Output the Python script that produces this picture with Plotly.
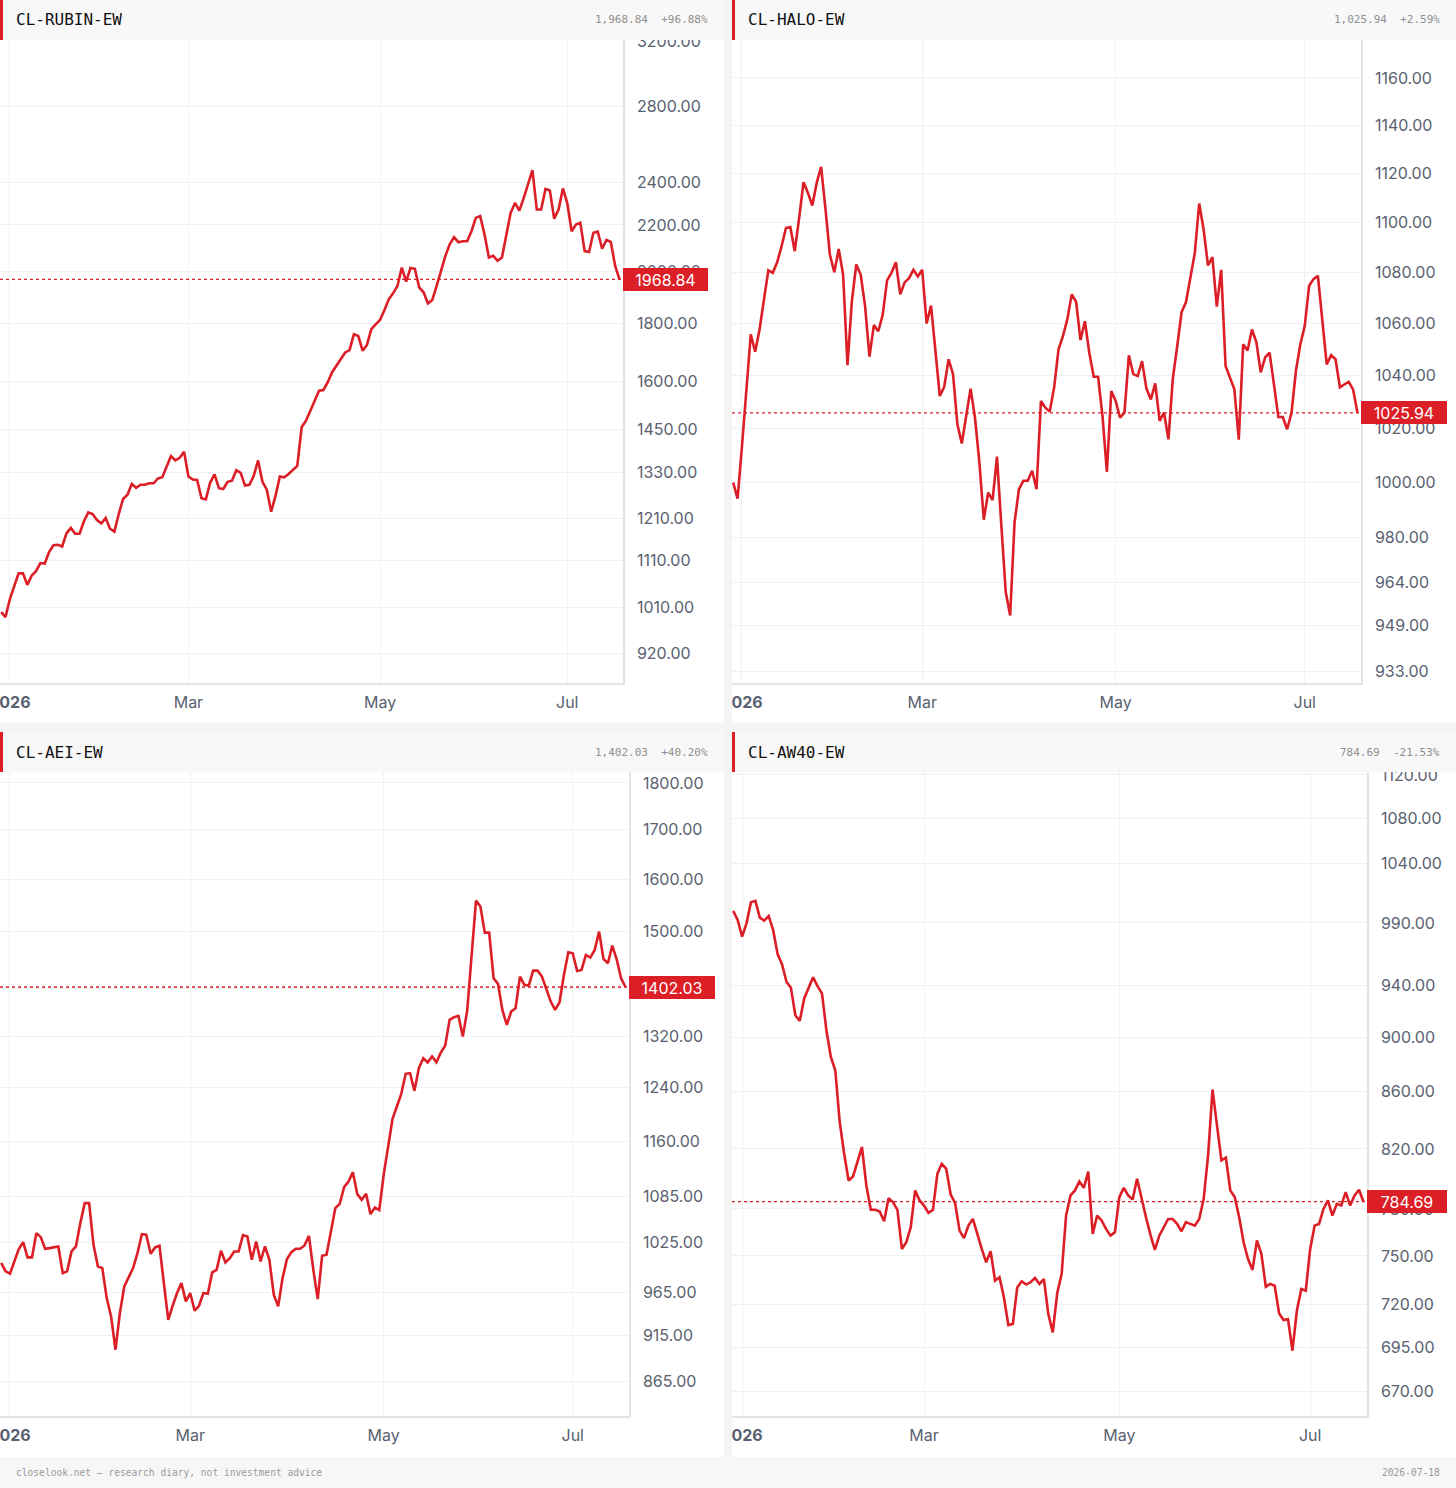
import math
import pandas as pd
import plotly.graph_objects as go

# ---------------- data ----------------
dates = [d.strftime('%Y-%m-%d') for d in pd.bdate_range('2025-12-30', '2026-07-17')
         if d.strftime('%Y-%m-%d') != '2026-01-01']

x_tickvals = ['2026-01-02', '2026-03-02', '2026-05-01', '2026-07-01']
x_ticktext = ['<b>2026</b>', 'Mar', 'May', 'Jul']

names = ['CL-RUBIN-EW', 'CL-HALO-EW', 'CL-AEI-EW', 'CL-AW40-EW']

rubin = [1000, 990, 1027, 1052, 1082, 1082, 1057, 1077, 1087, 1105,
         1104, 1130, 1146, 1147, 1143, 1174, 1187, 1173, 1173, 1203,
         1225, 1221, 1206, 1198, 1211, 1185, 1178, 1221, 1259, 1270,
         1298, 1288, 1296,
         1296, 1300, 1300, 1313, 1316, 1347, 1374, 1362, 1369, 1386,
         1318, 1310, 1309, 1261, 1258, 1302, 1324, 1287, 1285, 1304,
         1307, 1335, 1328, 1294, 1296, 1320, 1362, 1304, 1283, 1227,
         1267, 1318, 1316, 1325, 1335, 1347, 1457, 1477, 1507, 1536,
         1570, 1572, 1597, 1630, 1652, 1671, 1697, 1705, 1761, 1755,
         1703, 1723, 1779, 1797, 1813, 1849, 1891, 1914, 1943, 2017,
         1960, 2015, 2012, 1937, 1918, 1875, 1888, 1943, 2003, 2065,
         2115, 2146, 2124, 2128, 2128, 2172, 2232, 2240, 2158, 2059,
         2066, 2045, 2059, 2158, 2255, 2301, 2265, 2324, 2389, 2460,
         2270, 2270, 2367, 2360, 2228, 2270, 2370, 2300, 2172, 2202,
         2210, 2086, 2082, 2165, 2170, 2096, 2134, 2125, 2024, 1968.84]

halo = [1000, 994.2, 1013.5, 1034.8, 1055.9, 1049.2, 1057.8, 1069.5, 1081.0, 1080.0,
        1084.2, 1090.5, 1097.9, 1098.3, 1088.6, 1101.9, 1116.5, 1112.1, 1107.0, 1116.2,
        1122.8, 1105.4, 1087.2, 1080.2, 1089.5, 1079.3, 1044.0, 1068.9, 1083.3, 1079.3,
        1066.9, 1047.3, 1059.5, 1057.1, 1063.4, 1077.0, 1080.0, 1084.2, 1071.5, 1076.2,
        1077.9, 1081.2, 1078.6, 1081.2, 1060.1, 1067.1, 1048.8, 1032.3, 1035.8, 1046.3,
        1040.6, 1021.6, 1014.5, 1024.8, 1035.1, 1024.1, 1007.4, 986.5, 996.4, 993.6,
        1009.6, 984.3, 960.6, 952.5, 985.6, 997.6, 1000.7, 1000.7, 1004.4, 997.6,
        1030.4, 1027.9, 1026.4, 1035.5, 1050.1, 1055.2, 1061.7, 1071.5, 1068.6, 1053.7,
        1061.0, 1048.8, 1039.6, 1039.6, 1024.8, 1004.0, 1034.2, 1030.4, 1024.1, 1026.0,
        1047.8, 1040.6, 1039.9, 1045.6, 1035.1, 1031.0, 1037.1, 1022.9, 1026.0, 1016.0,
        1038.9, 1051.4, 1064.6, 1068.5, 1078.6, 1087.9, 1107.8, 1097.3, 1082.9, 1086.2,
        1066.7, 1081.2, 1043.7, 1039.3, 1034.8, 1015.9, 1052.1, 1049.7, 1057.8, 1052.9,
        1041.3, 1047.0, 1048.8, 1036.7, 1024.4, 1024.4, 1019.8, 1026.0, 1041.9, 1052.1,
        1059.1, 1074.9, 1077.5, 1078.8, 1061.7, 1044.3, 1047.9, 1046.3, 1035.6, 1036.7,
        1037.7, 1034.8, 1025.94]

aei = [1000, 989.7, 986.9, 1001.9, 1017.1, 1025.8, 1006.8, 1006.8, 1037.2, 1032.1,
       1017.5, 1018.3, 1019.2, 1020.4, 987.6, 989.7, 1014.2, 1020.4, 1050.0, 1076.0,
       1076.0, 1022.5, 995.7, 993.7, 957.9, 936.6, 899.2, 940.5, 971.7, 983.6,
       993.7, 1012.1, 1035.9, 1035.1, 1011.3, 1019.2, 1021.2, 975.6, 932.8, 948.9,
       963.8, 975.6, 954.0, 963.8, 943.2, 948.9, 963.8, 963.0, 988.5, 991.6,
       1015.0, 1000.6, 1005.9, 1014.2, 1014.2, 1034.7, 1033.0, 1003.9, 1026.7, 1001.9,
       1020.4, 1003.9, 961.8, 948.2, 981.6, 1004.7, 1013.3, 1017.5, 1017.5, 1021.7,
       1033.8, 991.7, 956.7, 1008.8, 1010.1, 1039.3, 1069.4, 1075.1, 1097.3, 1104.9,
       1117.6, 1087.9, 1080.4, 1088.4, 1061.6, 1070.3, 1066.8, 1114.0, 1153.3, 1192.5,
       1211.2, 1230.1, 1260.6, 1261.6, 1234.6, 1269.3, 1285.0, 1278.2, 1287.6, 1278.7,
       1293.9, 1305.1, 1346.7, 1351.1, 1353.3, 1319.5, 1362.2, 1452.3, 1558.5, 1547.1,
       1498.6, 1498.6, 1417.2, 1407.4, 1363.3, 1338.5, 1360.5, 1366.1, 1420.0, 1405.7,
       1404.6, 1430.5, 1430.5, 1420.0, 1399.9, 1377.2, 1363.3, 1376.1, 1422.9, 1462.9,
       1461.1, 1429.9, 1431.6, 1458.2, 1453.5, 1467.2, 1500.4, 1451.1, 1443.4, 1475.0,
       1450.5, 1417.2, 1402.03]

aw40 = [1000, 992.5, 978.8, 989.7, 1007.2, 1008.4, 994.4, 991.9, 995.8, 984.2,
        964.7, 956.6, 942.6, 937.9, 916.7, 912.4, 929.6, 937.4, 946.1, 939.2,
        933.5, 905.3, 885.4, 875.6, 838.6, 816.7, 798.7, 801.4, 811.0, 821.3,
        795.4, 779.4, 779.4, 778.3, 772.0, 787.0, 784.4, 779.4, 754.4, 758.6,
        768.2, 792.1, 785.5, 782.2, 777.4, 779.4, 803.2, 809.9, 806.5, 789.4,
        783.7, 766.0, 761.2, 769.2, 773.5, 763.5, 754.4, 746.0, 752.9, 734.7,
        736.8, 724.5, 708.0, 708.6, 730.6, 734.3, 732.3, 733.7, 736.3, 732.7,
        735.7, 714.5, 703.7, 727.0, 738.8, 775.7, 788.8, 792.1, 798.0, 793.8,
        804.7, 763.9, 775.7, 772.5, 767.1, 762.8, 765.0, 787.7, 793.8, 788.8,
        786.1, 799.8, 786.6, 774.6, 763.5, 753.8, 762.8, 768.2, 773.5, 773.5,
        770.3, 765.6, 771.4, 770.3, 769.2, 773.5, 786.6, 815.6, 861.6, 836.3,
        812.2, 814.0, 792.1, 787.7, 774.6, 758.6, 748.1, 741.3, 759.7, 751.3,
        731.0, 732.7, 731.6, 714.9, 711.0, 711.5, 693.0, 716.5, 729.6, 728.6,
        754.4, 769.2, 770.3, 780.0, 785.5, 775.7, 783.3, 782.2, 791.0, 782.2,
        788.8, 792.5, 784.69]

yticks_rubin = [920, 1010, 1110, 1210, 1330, 1450, 1600, 1800, 2000, 2200, 2400, 2800, 3200]
yticks_halo = [933, 949, 964, 980, 1000, 1020, 1040, 1060, 1080, 1100, 1120, 1140, 1160]
yticks_aei = [865, 915, 965, 1025, 1085, 1160, 1240, 1320, 1400, 1500, 1600, 1700, 1800]
yticks_aw40 = [670, 695, 720, 750, 780, 820, 860, 900, 940, 990, 1040, 1080, 1120]

footer_left = 'closelook.net \u2014 research diary, not investment advice'
footer_right = '2026-07-18'

# ---------------- style / layout ----------------
W, H = 1456, 1488
RED = '#dc1e26'
TICK_COLOR = '#596170'
GRID = '#f0f1f3'
AXLINE = '#e2e4e7'
GUTTER = '#f4f4f4'
MONO = 'DejaVu Sans Mono, Liberation Mono, monospace'
SANS = 'Inter, Roboto, sans-serif'


def fx(x):
    return x / W


def fy(y):
    return 1 - y / H


panels = [
    dict(name=names[0], vals=rubin, ticks=yticks_rubin, yr=[2.9373, 3.5060],
         plot=(0, 40, 623, 683), box=(0, 0, 724, 723), lw=85),
    dict(name=names[1], vals=halo, ticks=yticks_halo, yr=[2.9681, 3.0705],
         plot=(732, 40, 1361, 683), box=(732, 0, 1456, 723), lw=86),
    dict(name=names[2], vals=aei, ticks=yticks_aei, yr=[2.9186, 3.2611],
         plot=(0, 772, 629, 1416), box=(0, 732, 724, 1457), lw=86),
    dict(name=names[3], vals=aw40, ticks=yticks_aw40, yr=[2.8171, 3.0503],
         plot=(732, 772, 1367, 1416), box=(732, 732, 1456, 1457), lw=80),
]

fig = go.Figure()
shapes = []
annotations = []
layout = {}

for k, p in enumerate(panels, start=1):
    xa = 'x' if k == 1 else f'x{k}'
    ya = 'y' if k == 1 else f'y{k}'
    vals = p['vals']
    n = min(len(vals), len(dates))
    last = vals[n - 1]
    first = vals[0]

    px0, py0, px1, py1 = p['plot']
    bx0, by0, bx1, by1 = p['box']

    fig.add_trace(go.Scatter(
        x=dates[:n], y=vals[:n], mode='lines',
        line=dict(color=RED, width=2.6), xaxis=xa, yaxis=ya,
        hoverinfo='skip', showlegend=False))

    layout[f'xaxis{"" if k == 1 else k}'] = dict(
        domain=[fx(px0), fx(px1)], anchor=ya, type='category', automargin=False,
        range=[-0.27, 142.8], tickmode='array', tickvals=x_tickvals,
        ticktext=x_ticktext, showgrid=True, gridcolor=GRID, gridwidth=1,
        showline=True, linecolor=AXLINE, linewidth=1.5, ticks='',
        ticklabelstandoff=4, zeroline=False,
        tickfont=dict(family=SANS, size=16, color=TICK_COLOR), fixedrange=True)
    layout[f'yaxis{"" if k == 1 else k}'] = dict(
        domain=[fy(py1), fy(py0)], anchor=xa, type='log', side='right', automargin=False,
        range=p['yr'], tickmode='array', tickvals=p['ticks'], tickformat='.2f',
        showgrid=True, gridcolor=GRID, gridwidth=1, showline=True,
        linecolor=AXLINE, linewidth=1.5, ticks='', ticklabelstandoff=9,
        zeroline=False, tickfont=dict(family=SANS, size=16, color=TICK_COLOR),
        fixedrange=True)

    # panel background
    shapes.append(dict(type='rect', xref='paper', yref='paper', x0=fx(bx0), x1=fx(bx1),
                       y0=fy(by1), y1=fy(by0), fillcolor='white', line=dict(width=0),
                       layer='below'))
    # dashed last-value line
    shapes.append(dict(type='line', xref=f'{xa} domain', yref=ya, x0=0, x1=1,
                       y0=last, y1=last, line=dict(color=RED, width=1.3, dash='3px,3px'),
                       layer='above'))
    # header bar
    shapes.append(dict(type='rect', xref='paper', yref='paper', x0=fx(bx0), x1=fx(bx1),
                       y0=fy(by0 + 40), y1=fy(by0), fillcolor='#f8f8f8',
                       line=dict(width=0), layer='above'))
    shapes.append(dict(type='rect', xref='paper', yref='paper', x0=fx(bx0), x1=fx(bx0 + 3),
                       y0=fy(by0 + 40), y1=fy(by0), fillcolor=RED,
                       line=dict(width=0), layer='above'))
    # header texts
    annotations.append(dict(xref='paper', yref='paper', x=fx(bx0 + 14), y=fy(by0 + 20),
                            xanchor='left', yanchor='middle', showarrow=False,
                            text=p['name'], font=dict(family=MONO, size=16, color='#111111')))
    pct = (last / first - 1) * 100
    annotations.append(dict(xref='paper', yref='paper', x=fx(bx1 - 14), y=fy(by0 + 20),
                            xanchor='right', yanchor='middle', showarrow=False,
                            text=f'{last:,.2f}\u00a0\u00a0{pct:+.2f}%',
                            font=dict(family=MONO, size=11, color='#8f8f8f')))
    # last value label box
    annotations.append(dict(xref='paper', yref=ya, x=fx(px1), y=math.log10(last),
                            xanchor='left', yanchor='middle', showarrow=False,
                            text=f'{last:.2f}', bgcolor=RED, borderpad=2, borderwidth=0,
                            width=p['lw'] - 4, height=19, align='center',
                            font=dict(family=SANS, size=16, color='white')))

# clip the right-column first date label at its panel edge, like the reference
for (y0, y1) in [(688, 718), (1421, 1451)]:
    shapes.append(dict(type='rect', xref='paper', yref='paper', x0=fx(712), x1=fx(724),
                       y0=fy(y1), y1=fy(y0), fillcolor='white', line=dict(width=0),
                       layer='above'))
# gutters between panels
shapes.append(dict(type='rect', xref='paper', yref='paper', x0=fx(724), x1=fx(732),
                   y0=fy(1457), y1=fy(0), fillcolor=GUTTER, line=dict(width=0), layer='above'))
shapes.append(dict(type='rect', xref='paper', yref='paper', x0=fx(0), x1=fx(1456),
                   y0=fy(732), y1=fy(723), fillcolor=GUTTER, line=dict(width=0), layer='above'))

annotations.append(dict(xref='paper', yref='paper', x=fx(14), y=fy(1472),
                        xanchor='left', yanchor='middle', showarrow=False, text=footer_left,
                        font=dict(family=MONO, size=9.6, color='#9a9a9a')))
annotations.append(dict(xref='paper', yref='paper', x=fx(1442), y=fy(1472),
                        xanchor='right', yanchor='middle', showarrow=False, text=footer_right,
                        font=dict(family=MONO, size=9.6, color='#9a9a9a')))

fig.update_layout(
    width=W, height=H, margin=dict(l=0, r=0, t=0, b=0, pad=0, autoexpand=False),
    paper_bgcolor='#f7f7f7', plot_bgcolor='white',
    shapes=shapes, annotations=annotations, showlegend=False,
    hovermode=False, **layout)

fig.write_html('out.html', config={'displayModeBar': False})
